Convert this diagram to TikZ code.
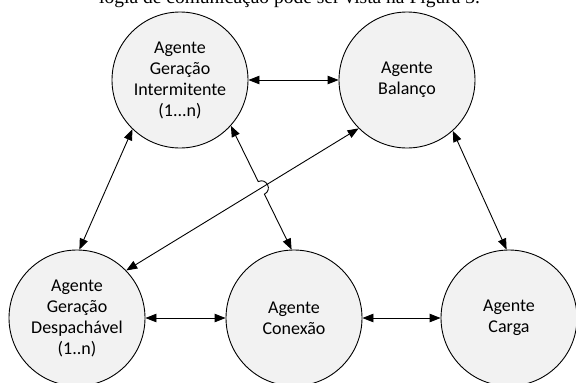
\documentclass[tikz,border=0pt]{standalone}
\usepackage{fontspec}
\setmainfont{Carlito}
\newfontfamily\seriffont{Liberation Serif}
\usetikzlibrary{arrows.meta,calc,intersections}
\definecolor{agentfill}{HTML}{F2F2F2}
\begin{document}
\begin{tikzpicture}[x=1pt,y=-1pt,
  agent/.style={circle, draw=black, line width=0.9pt, fill=agentfill, minimum size=136pt, inner sep=0pt, align=center, font=\fontsize{18}{21}\selectfont},
  link/.style={line width=0.9pt, {Triangle[length=11pt,width=8.5pt]}-{Triangle[length=11pt,width=8.5pt]}}]
\useasboundingbox (0,0) rectangle (576,383);
\clip (0,0) rectangle (576,383);
\node[anchor=base west, font=\seriffont\fontsize{19.5}{22}\selectfont, inner sep=0pt] (T) at (99,3) {logia de comunicação pode ser vista na Figura 3.};
\node[agent] (I) at (180,80) {Agente\\Geração\\Intermitente\\(1...n)};
\node[agent] (B) at (407,80) {Agente\\Balanço};
\node[agent] (D) at (77,318) {Agente\\Geração\\Despachável\\(1..n)};
\node[agent] (C) at (294,318) {Agente\\Conexão};
\node[agent] (L) at (509,318) {Agente\\Carga};
\draw[link] (I.east) -- (B.west);
\draw[link] (I.226) -- (D.88);
\draw[link] (B.312) -- (L.92);
\draw[link] (D.east) -- (C.west);
\draw[link] (C.east) -- (L.west);
\draw[link, name path=bd] (B.225) -- (D.44);
\path[name path=ic] (I.318) -- (C.92);
\path[name intersections={of=ic and bd, by=X}];
\coordinate (hs) at ($(X)!7pt!(I.318)$);
\coordinate (he) at ($(X)!7pt!(C.92)$);
\draw[link] (I.318) -- (hs) to[bend left=90, looseness=1.7] (he) -- (C.92);
\end{tikzpicture}
\end{document}
